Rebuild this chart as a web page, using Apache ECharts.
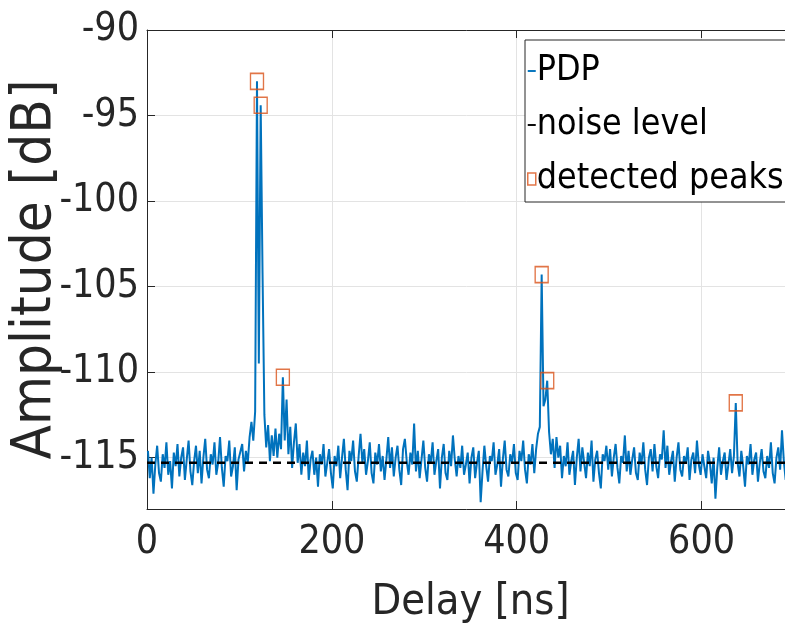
<!DOCTYPE html>
<html>
<head>
<meta charset="utf-8">
<script src="https://cdn.jsdelivr.net/npm/echarts@6/dist/echarts.min.js"></script>
<style>
    html, body { margin: 0; padding: 0; background: #fff; }
    #pdpChart { width: 785px; height: 641px; }
</style>
</head>
<body>
<div id="pdpChart"></div>
<script>
    // PDP samples: delay = 1, 3, 5 ... 699 ns (one value every 2 ns)
    const delayStart = 1;
    const delayStep = 2;
    const pdpAmp = [
        -114.6,-116.2,-115.0,-117.1,-115.4,-114.3,-115.9,-116.4,-114.8,-115.6,-114.1,-116.0,-115.2,-116.8,-114.7,-115.5,-114.2,-116.1,-115.0,-114.4,-116.3,-115.1,-114.0,-115.8,-116.6,
        -115.2,-114.3,-115.9,-114.6,-116.5,-115.0,-113.9,-115.7,-116.2,-114.8,-115.4,-114.1,-116.0,-115.3,-113.8,-115.6,-116.7,-114.9,-115.2,-114.0,-116.1,-115.5,-114.4,-116.9,-115.1,
        -115.0,-114.2,-115.8,-114.6,-115.3,-113.8,-112.9,-114.0,-112.3,-93.0,-109.5,-94.4,-104.2,-112.5,-114.4,-113.1,-115.2,-113.7,-114.9,-113.3,-115.0,-113.6,-114.5,-110.3,-114.0,
        -111.6,-114.8,-113.2,-115.6,-114.1,-113.0,-115.3,-114.2,-116.0,-114.7,-115.5,-114.0,-116.3,-115.1,-114.6,-116.0,-115.0,-116.7,-114.8,-115.4,-114.2,-116.1,-115.3,-114.5,-115.9,
        -116.8,-114.9,-115.5,-114.3,-116.2,-115.0,-113.9,-115.7,-116.9,-114.6,-115.2,-114.0,-115.8,-116.4,-114.9,-113.6,-115.3,-114.5,-116.0,-115.2,-114.1,-115.9,-116.5,-114.7,-115.4,
        -114.2,-115.8,-114.9,-116.3,-115.1,-113.8,-115.6,-114.4,-116.1,-115.0,-114.3,-115.7,-116.6,-114.5,-113.9,-115.2,-116.0,-114.7,-115.4,-113.0,-115.8,-114.6,-116.2,-115.1,-114.0,
        -115.6,-116.4,-114.8,-115.3,-114.1,-116.0,-115.2,-114.5,-116.8,-115.0,-114.2,-115.9,-116.3,-114.6,-115.5,-113.7,-115.1,-116.1,-114.9,-115.6,-114.3,-116.0,-115.4,-114.7,-116.5,
        -115.0,-114.4,-116.2,-115.3,-114.6,-117.6,-115.8,-114.3,-115.5,-116.4,-114.9,-115.2,-114.1,-116.0,-115.4,-114.5,-116.7,-115.1,-114.0,-115.7,-116.1,-114.8,-115.3,-114.2,-115.9,
        -116.3,-114.6,-115.2,-114.0,-115.7,-116.5,-114.8,-115.4,-114.2,-115.9,-114.5,-113.6,-113.2,-104.3,-112.0,-111.6,-110.5,-113.5,-114.8,-113.9,-115.6,-113.8,-115.0,-114.3,-116.2,
        -114.9,-115.5,-114.1,-116.0,-115.2,-114.6,-116.6,-115.0,-113.9,-115.8,-114.4,-115.3,-116.2,-114.7,-115.5,-114.0,-116.4,-115.1,-114.6,-115.9,-116.8,-114.8,-115.2,-114.3,-115.7,
        -114.5,-116.1,-115.0,-114.2,-115.6,-116.5,-114.9,-115.3,-113.7,-115.8,-114.6,-116.0,-115.1,-114.4,-115.9,-116.3,-114.7,-115.4,-114.1,-115.7,-116.6,-115.0,-114.5,-115.8,-114.2,
        -115.5,-116.2,-114.8,-115.1,-113.4,-115.6,-114.3,-116.0,-115.2,-114.6,-116.4,-115.0,-114.1,-115.7,-116.1,-114.9,-115.3,-114.4,-116.3,-115.1,-114.7,-115.9,-114.0,-115.4,-116.0,
        -114.8,-115.5,-116.2,-114.6,-115.3,-116.5,-115.0,-117.4,-115.6,-114.4,-116.0,-115.2,-114.7,-116.3,-115.4,-114.5,-115.9,-114.9,-111.8,-115.3,-116.1,-114.6,-115.5,-116.7,-114.9,
        -115.4,-114.2,-116.0,-115.1,-114.7,-116.4,-115.3,-114.5,-115.8,-116.2,-114.9,-115.6,-114.1,-115.9,-116.5,-115.0,-114.4,-115.7,-113.4,-115.2,-116.3,-114.8,-115.5,-114.3,-116.0
    ];

    // detected peaks (delay ns, amplitude dB)
    const peakDelay = [119, 123, 147, 427, 433, 637];
    const peakAmp = [-93.0, -94.4, -110.3, -104.3, -110.5, -111.8];

    const noiseLevel = -115.3;
    const xRange = [0, 700];
    const yRange = [-118, -90];

    const labelFont = 'DejaVu Sans Condensed, DejaVu Sans';
    const textColor = '#262626';
    // short dash used as legend icon for the two line series
    const dashIcon = 'path://M0,0 L0,0 M0,4.8 L10,4.8 L10,7.2 L0,7.2 Z M10,12 L10,12';

    const pdpData = pdpAmp.map((v, i) => [delayStart + i * delayStep, v]);
    const peakData = peakDelay.map((d, i) => [d, peakAmp[i]]);
    const noiseData = [[xRange[0], noiseLevel], [xRange[1], noiseLevel]];

    const myChart = echarts.init(document.getElementById('pdpChart'));
    const option = {
        animation: false,
        grid: {
            left: 147,
            top: 30,
            width: 647,
            height: 479,
            containLabel: false,
            outerBoundsMode: 'none'
        },
        legend: {
            orient: 'vertical',
            left: 525,
            top: 40,
            padding: [13, 30, 5, 2],
            itemWidth: 8,
            itemHeight: 12,
            itemGap: 18,
            backgroundColor: '#fff',
            borderColor: '#262626',
            borderWidth: 1,
            textStyle: {
                fontFamily: labelFont,
                fontSize: 35.5,
                color: '#000',
                padding: [0, 0, 0, -4]
            },
            data: [
                { name: 'PDP', icon: dashIcon, itemStyle: { color: '#0072BD' } },
                { name: 'noise level', icon: dashIcon, itemStyle: { color: '#000' } },
                { name: 'detected peaks', icon: 'rect', itemStyle: { color: '#fff', borderColor: '#D95319', borderWidth: 1.5 } }
            ]
        },
        xAxis: [
            {
                type: 'value',
                min: xRange[0],
                max: xRange[1],
                interval: 200,
                name: 'Delay [ns]',
                nameLocation: 'middle',
                nameGap: 72,
                nameMoveOverlap: false,
                nameTextStyle: { fontFamily: labelFont, fontSize: 43, color: textColor },
                axisLine: { show: true, onZero: false, lineStyle: { color: textColor, width: 1 } },
                axisTick: { show: true, inside: true, length: 8, lineStyle: { color: textColor } },
                axisLabel: { fontFamily: labelFont, fontSize: 39, color: textColor, margin: 14, showMaxLabel: false },
                splitLine: { show: true, lineStyle: { color: '#e3e3e3', width: 1 } }
            },
            {
                type: 'value',
                position: 'top',
                min: xRange[0],
                max: xRange[1],
                interval: 200,
                axisLine: { show: true, lineStyle: { color: textColor, width: 1 } },
                axisTick: { show: true, inside: true, length: 8, lineStyle: { color: textColor } },
                axisLabel: { show: false },
                splitLine: { show: false }
            }
        ],
        yAxis: {
            type: 'value',
            min: yRange[0],
            max: yRange[1],
            splitNumber: 6,
            name: 'Amplitude [dB]',
            nameLocation: 'middle',
            nameGap: 84,
            nameMoveOverlap: false,
            nameTextStyle: { fontFamily: labelFont, fontSize: 56, color: textColor },
            axisLine: { show: true, lineStyle: { color: textColor, width: 1 } },
            axisTick: { show: true, inside: true, length: 8, lineStyle: { color: textColor } },
            axisLabel: { fontFamily: labelFont, fontSize: 39, color: textColor, margin: 8, showMinLabel: false },
            splitLine: { show: true, lineStyle: { color: '#e3e3e3', width: 1 } }
        },
        series: [
            {
                name: 'PDP',
                type: 'line',
                data: pdpData,
                showSymbol: false,
                symbol: 'none',
                lineStyle: { color: '#0072BD', width: 2 },
                itemStyle: { color: '#0072BD' },
                z: 2
            },
            {
                name: 'noise level',
                type: 'line',
                data: noiseData,
                showSymbol: false,
                symbol: 'none',
                lineStyle: { color: '#000', width: 2.5, type: [8, 6] },
                itemStyle: { color: '#000' },
                z: 3
            },
            {
                name: 'detected peaks',
                type: 'scatter',
                data: peakData,
                symbol: 'rect',
                symbolSize: [13, 16],
                itemStyle: { color: 'rgba(0,0,0,0)', borderColor: '#D95319', borderWidth: 1.5 },
                z: 4
            }
        ]
    };
    myChart.setOption(option);
</script>
</body>
</html>
